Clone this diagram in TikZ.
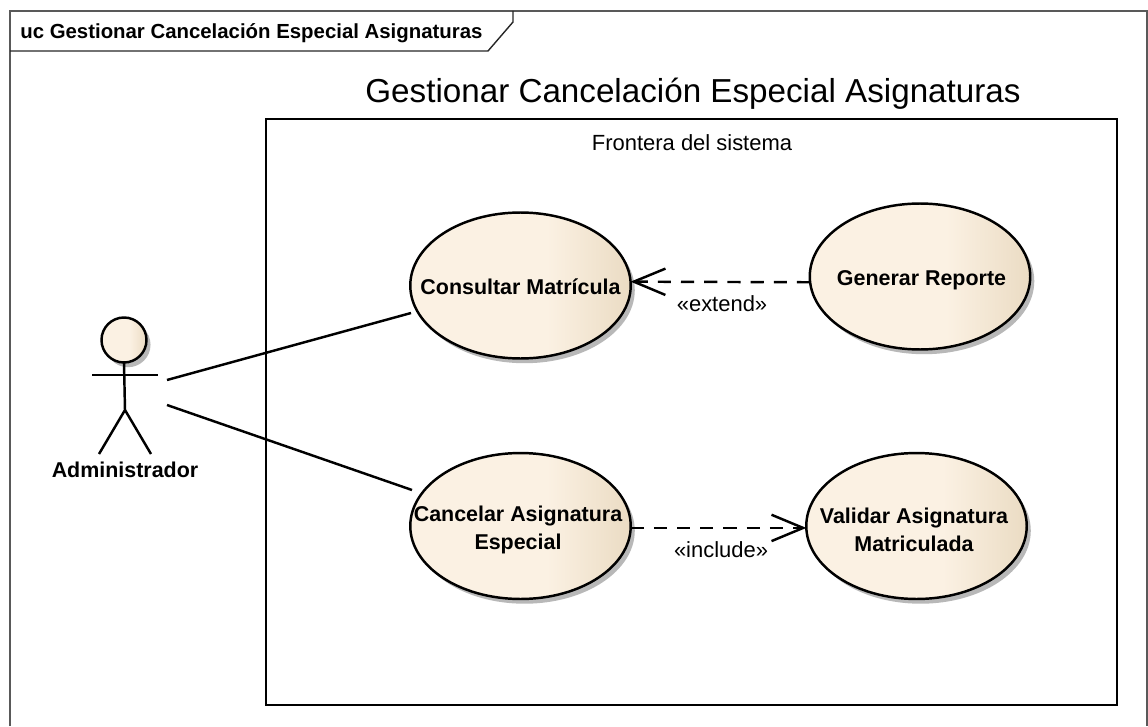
\documentclass[tikz,border=0pt]{standalone}
\usepackage{fontspec}
\setmainfont{Liberation Sans}
\usepackage{xcolor}
\usepackage{tikz}
\usetikzlibrary{arrows.meta,shapes,shadows}

\definecolor{caselight}{HTML}{FBF1E3}
\definecolor{casedark}{HTML}{E8D8BE}
\pgfdeclarehorizontalshading{casefill}{100bp}{color(0bp)=(caselight); color(56bp)=(caselight); color(78bp)=(casedark); color(100bp)=(casedark)}

\tikzset{
    shaded case/.style={shading=casefill,
        drop shadow={shadow xshift=2.3pt,shadow yshift=-2.7pt,fill=black!28,opacity=1}},
    usecase/.style={ellipse,draw=black,line width=1.4pt,inner sep=0pt,outer sep=0pt,
        minimum width=4.41cm,minimum height=2.92cm,shaded case},
    casetext/.style={font=\fontsize{12.2}{15.7}\selectfont\bfseries,align=center,inner sep=0pt},
    reltext/.style={font=\fontsize{12.5}{14}\selectfont,inner sep=0pt},
    assoc/.style={line width=1.4pt},
    depend/.style={line width=1.4pt,dash pattern=on 7.5pt off 5.7pt,
        -{Straight Barb[length=18pt,width=15pt,line width=1.4pt]}}
}

\begin{document}
\begin{tikzpicture}[x=0.02cm,y=-0.02cm]
    \useasboundingbox (0,0) rectangle (1148,726);

    % Diagram frame
    \draw[line width=0.8pt,black!65] (10,726) -- (10,11) -- (1147,11) -- (1147,726);
    \draw[line width=0.8pt,black!85] (10,51) -- (488,51) -- (513,22) -- (513,11);
    \node[font=\fontsize{11.6}{14}\selectfont\bfseries,anchor=west,inner sep=0pt] (frametitle) at (20,33) {uc Gestionar Cancelación Especial Asignaturas};

    % System boundary
    \node[font=\fontsize{18.9}{23}\selectfont,inner sep=0pt] (systitle) at (693,94) {Gestionar Cancelación Especial Asignaturas};
    \node[draw,line width=1.4pt,minimum width=17.02cm,minimum height=11.72cm,inner sep=0pt] (sysbox) at (691.5,412) {};
    \node[reltext] (syslabel) at (692,143) {Frontera del sistema};

    % Use cases
    \node[usecase] (consultar) at (520.5,285.5) {};
    \node[usecase] (generar) at (920,276.5) {};
    \node[usecase] (cancelar) at (520.5,526) {};
    \node[usecase] (validar) at (916.5,526) {};
    \node[casetext] (consultartext) at (520.5,287) {Consultar Matrícula};
    \node[casetext] (generartext) at (921.5,280) {Generar Reporte};
    \node[casetext] (cancelartext) at (518,530) {Cancelar Asignatura\\Especial};
    \node[casetext] (validartext) at (914,530) {Validar Asignatura\\Matriculada};

    % Actor
    \node[circle,draw=black,line width=1.4pt,minimum size=0.9cm,inner sep=0pt,outer sep=0pt,shaded case] (head) at (124,340) {};
    \coordinate (hip) at (125,410);
    \coordinate (armleft) at (92,375);
    \coordinate (armright) at (158,375);
    \coordinate (footleft) at (99,454);
    \coordinate (footright) at (151,454);
    \draw[assoc] (head.south) -- (hip);
    \draw[assoc] (armleft) -- (armright);
    \draw[assoc] (footleft) -- (hip) -- (footright);
    \node[casetext] (actorname) at (125,470) {Administrador};

    % Associations
    \coordinate (actorupper) at (167,380);
    \coordinate (actorlower) at (167,405);
    \coordinate (consultarend) at (411,313);
    \coordinate (cancelarend) at (412,490);
    \draw[assoc] (actorupper) -- (consultarend);
    \draw[assoc] (actorlower) -- (cancelarend);

    % Dependencies
    \draw[depend] (generar.183) -- (consultar.2);
    \draw[depend] (cancelar.359) -- (validar.181);
    \node[reltext] (extendlabel) at (722,304) {«extend»};
    \node[reltext] (includelabel) at (721,550) {«include»};
\end{tikzpicture}
\end{document}
